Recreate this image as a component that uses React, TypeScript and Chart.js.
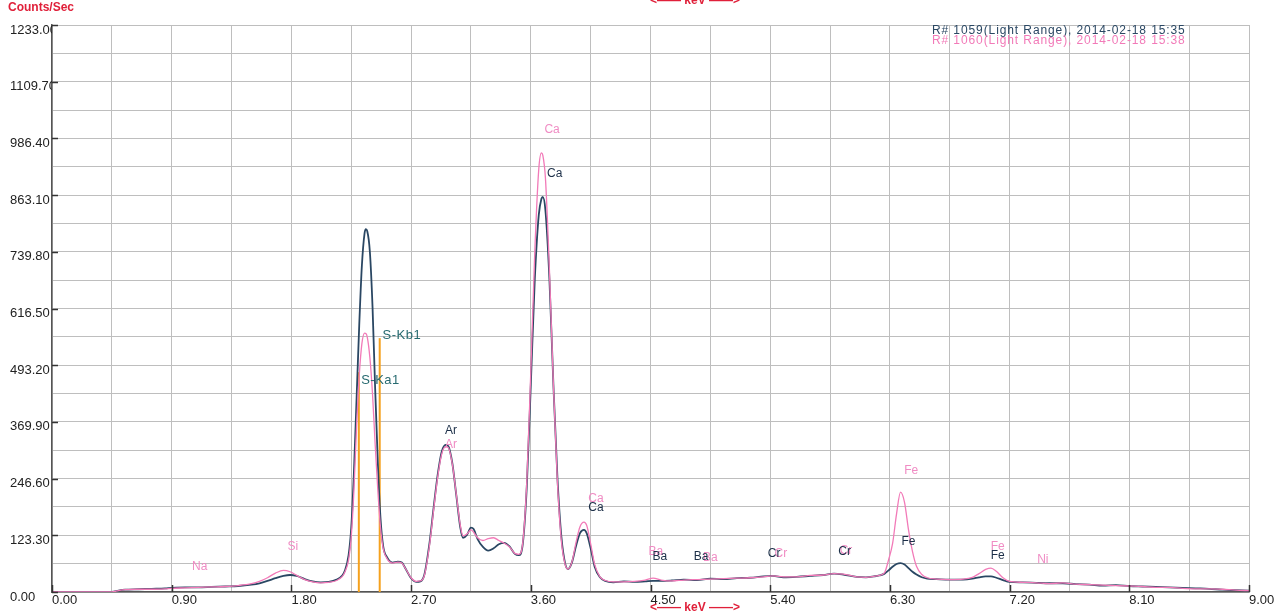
import React, { useEffect, useRef } from 'react';
import { Chart, registerables } from 'chart.js';

Chart.register(...registerables);

// Energy axis of the two spectra (keV)
const energyKeV = [
  0.0, 0.45, 0.5, 0.55, 0.65, 0.75, 0.85, 0.9, 1.0, 1.1, 1.2, 1.3, 1.4, 1.5, 1.56, 1.62, 1.68, 1.74, 1.79, 1.84,
  1.9, 1.96, 2.02, 2.08, 2.14, 2.18, 2.2, 2.23, 2.25, 2.27, 2.29, 2.31, 2.33, 2.35, 2.36, 2.37, 2.39, 2.41, 2.43, 2.45,
  2.47, 2.49, 2.52, 2.56, 2.6, 2.63, 2.66, 2.7, 2.74, 2.77, 2.8, 2.84, 2.87, 2.9, 2.93, 2.96, 2.98, 3.01, 3.04, 3.07,
  3.09, 3.12, 3.15, 3.17, 3.2, 3.24, 3.28, 3.32, 3.36, 3.4, 3.44, 3.48, 3.51, 3.54, 3.57, 3.6, 3.63, 3.66, 3.68, 3.69,
  3.71, 3.74, 3.77, 3.8, 3.83, 3.86, 3.88, 3.91, 3.94, 3.97, 4.0, 4.02, 4.05, 4.08, 4.12, 4.16, 4.22, 4.3, 4.38, 4.46,
  4.52, 4.58, 4.66, 4.75, 4.85, 4.95, 5.05, 5.15, 5.25, 5.35, 5.42, 5.5, 5.6, 5.7, 5.8, 5.88, 5.95, 6.05, 6.12, 6.18,
  6.22, 6.26, 6.29, 6.32, 6.35, 6.38, 6.41, 6.44, 6.47, 6.5, 6.54, 6.58, 6.65, 6.75, 6.85, 6.92, 6.97, 7.02, 7.06, 7.1,
  7.15, 7.2, 7.3, 7.4, 7.5, 7.6, 7.7, 7.8, 7.9, 8.0, 8.1, 8.2, 8.3, 8.4, 8.5, 8.6, 8.7, 8.8, 8.9, 9.0,
];

// R# 1059 counts per second
const counts1059 = [
  0, 0, 3, 5, 6, 7, 8, 9, 10, 10, 11, 12, 13, 16, 19, 24, 30, 35, 37, 35,
  28, 23, 21, 22, 27, 35, 45, 80, 140, 260, 420, 580, 710, 780, 789, 785, 740, 620, 440, 280,
  160, 100, 75, 64, 66, 64, 50, 30, 22, 23, 38, 110, 185, 255, 305, 320, 317, 280, 210, 140,
  118, 124, 140, 137, 115, 98, 90, 95, 104, 107, 99, 83, 80, 105, 230, 450, 680, 820, 855, 859,
  830, 680, 450, 250, 120, 60, 50, 65, 100, 128, 135, 128, 95, 55, 32, 24, 21, 23, 22, 23,
  24, 24, 25, 27, 26, 29, 28, 30, 31, 34, 35, 32, 33, 35, 37, 40, 38, 33, 32, 34,
  36, 40, 47, 55, 61, 63, 60, 52, 44, 38, 32, 29, 28, 27, 27, 29, 32, 34, 34, 31,
  26, 22, 21, 20, 19, 19, 17, 16, 14, 15, 13, 12, 11, 10, 9, 8, 7, 5, 4, 3,
];

// R# 1060 counts per second
const counts1060 = [
  0, 0, 3, 5, 6, 6, 7, 8, 9, 10, 11, 12, 14, 18, 23, 31, 41, 47, 44, 36,
  27, 22, 20, 21, 25, 33, 42, 70, 120, 220, 360, 470, 540, 563, 562, 555, 510, 430, 320, 220,
  140, 95, 72, 63, 65, 63, 50, 31, 23, 24, 36, 105, 180, 250, 300, 316, 314, 278, 212, 145,
  122, 126, 135, 130, 118, 112, 116, 118, 112, 106, 98, 84, 82, 108, 240, 480, 740, 920, 955, 950,
  900, 700, 450, 240, 110, 58, 50, 66, 108, 142, 152, 145, 105, 60, 33, 25, 22, 22, 23, 26,
  30, 26, 24, 26, 27, 28, 29, 30, 31, 33, 35, 33, 33, 36, 37, 40, 39, 33, 32, 34,
  36, 42, 70, 105, 170, 217, 195, 135, 88, 56, 38, 31, 28, 27, 28, 32, 40, 49, 52, 45,
  31, 23, 21, 20, 18, 20, 17, 16, 15, 14, 13, 12, 10, 10, 8, 7, 7, 6, 4, 3,
];

const seriesNames = [
  'R# 1059(Light Range), 2014-02-18 15:35',
  'R# 1060(Light Range), 2014-02-18 15:38',
];
const seriesColors = ['#2a4763', '#f27ab8'];
const labelColors = ['#1c2f48', '#f08cc4'];

// Axis tick labels (major ticks); grid lines fall on these and halfway between
const xTickLabels = ['0.00', '0.90', '1.80', '2.70', '3.60', '4.50', '5.40', '6.30', '7.20', '8.10', '9.00'];
const yTickLabels = ['0.00', '123.30', '246.60', '369.90', '493.20', '616.50', '739.80', '863.10', '986.40', '1109.70', '1233.00'];

// Sulfur reference lines
const sLineNames = ['S-Ka1', 'S-Kb1'];
const sLineKeV = [2.307, 2.464];
const sLineCounts = [478, 552];
const sLabelKeV = [2.47, 2.63];
const sLabelCounts = [461, 559];

// Element tags: text, position (keV, counts), series index
const tagText = ['Na', 'Si', 'Ar', 'Ca', 'Ca', 'Ba', 'Ba', 'Cr', 'Cr', 'Fe', 'Fe', 'Ni', 'Ar', 'Ca', 'Ca', 'Ba', 'Ba', 'Cr', 'Cr', 'Fe', 'Fe'];
const tagKeV = [1.11, 1.81, 3.0, 3.76, 4.09, 4.54, 4.95, 5.48, 5.97, 6.46, 7.11, 7.45, 3.0, 3.78, 4.09, 4.57, 4.88, 5.43, 5.96, 6.44, 7.11];
const tagCounts = [56, 98, 320, 1005, 204, 87, 74, 83, 89, 263, 98, 70, 350, 909, 183, 76, 76, 83, 87, 109, 78];
const tagSeries = [1, 1, 1, 1, 1, 1, 1, 1, 1, 1, 1, 1, 0, 0, 0, 0, 0, 0, 0, 0, 0];

const FONT = '"Liberation Sans", Arial, sans-serif';

const xMajor = xTickLabels.map(Number);
const yMajor = yTickLabels.map(Number);
const halfSteps = (major: number[]) => {
  const out: number[] = [];
  major.forEach((v, i) => {
    out.push(v);
    if (i < major.length - 1) out.push((v + major[i + 1]) / 2);
  });
  return out;
};
const xGrid = halfSteps(xMajor);
const yGrid = halfSteps(yMajor);

const overlayPlugin = {
  id: 'spectrumOverlay',
  afterDatasetsDraw(chart: any) {
    const { ctx, scales, chartArea } = chart;
    const xs = scales.x;
    const ys = scales.y;
    ctx.save();

    // major tick marks, pointing into the plot
    ctx.strokeStyle = '#333';
    ctx.lineWidth = 1.5;
    xMajor.forEach((v) => {
      const px = Math.round(xs.getPixelForValue(v)) + 0.5;
      ctx.beginPath();
      ctx.moveTo(px, chartArea.bottom);
      ctx.lineTo(px, chartArea.bottom - 7);
      ctx.stroke();
    });
    yMajor.forEach((v) => {
      const py = Math.round(ys.getPixelForValue(v)) + 0.5;
      ctx.beginPath();
      ctx.moveTo(chartArea.left, py);
      ctx.lineTo(chartArea.left + 6, py);
      ctx.stroke();
    });

    // element tags
    ctx.textAlign = 'center';
    ctx.textBaseline = 'middle';
    ctx.font = `12px ${FONT}`;
    tagText.forEach((t, i) => {
      ctx.fillStyle = labelColors[tagSeries[i]];
      ctx.fillText(t, xs.getPixelForValue(tagKeV[i]), ys.getPixelForValue(tagCounts[i]));
    });

    // sulfur line tags
    ctx.fillStyle = '#276a70';
    ctx.font = `13px ${FONT}`;
    (ctx as any).letterSpacing = '0.5px';
    sLineNames.forEach((t, i) => {
      ctx.fillText(t, xs.getPixelForValue(sLabelKeV[i]), ys.getPixelForValue(sLabelCounts[i]));
    });

    // axis captions
    (ctx as any).letterSpacing = '0px';
    ctx.fillStyle = '#e0203a';
    ctx.font = `bold 12px ${FONT}`;
    ctx.textAlign = 'left';
    ctx.fillText('Counts/Sec', 8, 8);
    ctx.fillText('<—— keV ——>', 650, 1);
    ctx.fillText('<—— keV ——>', 650, 608);

    // series names
    ctx.font = `12px ${FONT}`;
    (ctx as any).letterSpacing = '0.9px';
    seriesNames.forEach((n, i) => {
      ctx.fillStyle = seriesColors[i];
      ctx.fillText(n, 932, 31 + i * 10);
    });
    ctx.restore();
  },
};

export default function App() {
  const canvasRef = useRef<HTMLCanvasElement | null>(null);

  useEffect(() => {
    const canvas = canvasRef.current;
    if (!canvas) return;
    Chart.defaults.font.family = FONT;

    const spectrum = (vals: number[]) => energyKeV.map((e, i) => ({ x: e, y: vals[i] }));
    const sLines = sLineKeV.map((e, i) => ({
      label: sLineNames[i],
      data: [
        { x: e, y: 0 },
        { x: e, y: sLineCounts[i] },
      ],
      borderColor: '#f5a11e',
      borderWidth: 2,
      pointRadius: 0,
      order: 3,
    }));

    const chart = new Chart(canvas, {
      type: 'line',
      data: {
        datasets: [
          ...sLines,
          {
            label: seriesNames[0],
            data: spectrum(counts1059),
            borderColor: seriesColors[0],
            borderWidth: 1.8,
            pointRadius: 0,
            cubicInterpolationMode: 'monotone',
            order: 2,
          },
          {
            label: seriesNames[1],
            data: spectrum(counts1060),
            borderColor: seriesColors[1],
            borderWidth: 1.3,
            pointRadius: 0,
            cubicInterpolationMode: 'monotone',
            order: 1,
          },
        ] as any,
      },
      options: {
        responsive: false,
        animation: false,
        parsing: false as any,
        layout: { padding: { left: 10, top: 25, right: 37, bottom: 0 } },
        plugins: { legend: { display: false }, tooltip: { enabled: false } },
        scales: {
          x: {
            type: 'linear',
            min: 0,
            max: 9,
            afterBuildTicks: (s: any) => {
              s.ticks = xGrid.map((v) => ({ value: v }));
            },
            afterFit: (s: any) => {
              s.height = 20;
            },
            ticks: {
              autoSkip: false,
              maxRotation: 0,
              align: 'start',
              padding: 1,
              color: '#222',
              font: { size: 13, family: FONT },
              callback: (_v: any, i: number) => (i % 2 === 0 ? xTickLabels[i / 2] : ''),
            },
            grid: { color: '#bebebe', lineWidth: 1, drawTicks: false },
            border: { color: '#555', width: 1.5 },
          },
          y: {
            type: 'linear',
            min: 0,
            max: 1233,
            afterBuildTicks: (s: any) => {
              s.ticks = yGrid.map((v) => ({ value: v }));
            },
            afterFit: (s: any) => {
              s.width = 42;
            },
            ticks: {
              autoSkip: false,
              crossAlign: 'far',
              labelOffset: 5,
              color: '#222',
              font: { size: 13, family: FONT },
              callback: (_v: any, i: number) => (i % 2 === 0 ? yTickLabels[i / 2] : ''),
            },
            grid: { color: '#bebebe', lineWidth: 1, drawTicks: false },
            border: { color: '#555', width: 1.5 },
          },
        },
      } as any,
      plugins: [overlayPlugin],
    });
    return () => chart.destroy();
  }, []);

  return (
    <div style={{ position: 'fixed', left: 0, top: 0, width: 1286, height: 612, background: '#fff' }}>
      <canvas ref={canvasRef} width={1286} height={612} style={{ display: 'block' }} />
    </div>
  );
}
